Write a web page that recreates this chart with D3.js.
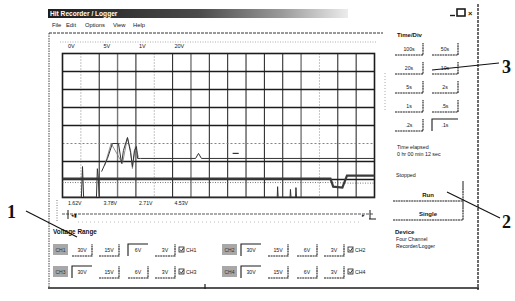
<!DOCTYPE html>
<html><head><meta charset="utf-8">
<script src="https://cdn.jsdelivr.net/npm/d3@7"></script>
<style>
html,body{margin:0;padding:0;background:#fff;}
svg{display:block;}
text{font-family:"Liberation Sans",Arial,sans-serif;fill:#151515;}
</style></head><body>
<div id="chart"></div>
<script>
// ---------- data ----------
const titleText = "Hit Recorder / Logger";
const menuItems = ["File","Edit","Options","View","Help"];
const timeDivLabels = ["100s","50s","20s","10s","5s","2s","1s",".5s",".2s",".1s"];
const selectedTimeDiv = ".1s";
const channelNames = ["CH1","CH3","CH2","CH4"];
const rangeLabels = ["30V","15V","6V","3V"];
const selectedRange = ["6V","30V","30V","30V"];
const topScaleLabels = ["0V","5V","1V","20V"];
const bottomReadings = ["1.62V","3.78V","2.71V","4.53V"];
const xDivs = d3.range(0,18);           // 17 time divisions
const yDivs = d3.range(0,9);            // 8 voltage divisions
const dottedCols = [1,5,14];
const grayCols = [3,7,13];
const dottedRows = [3];
// traces in division units [x, y]
const traceA = [[0,1.05],[14.6,1.05],[14.75,0.6],[15.25,0.55],[15.5,1.22],[17,1.22]];
const traceB = [[2.13,1.44],[2.45,2.17],[2.72,3.0],[3.05,3.0],[3.22,1.89],[3.32,2.61],[3.54,3.33],
  [3.71,2.5],[3.81,1.72],[3.92,2.61],[4.03,2.83],[4.09,2.17],[4.25,2.17],[7.25,2.17],[7.41,2.45],[7.57,2.17],[17,2.17]];
const traceB2 = [[2.3,1.78],[2.65,3.0],[3.27,1.89],[3.54,3.33],[3.71,2.61],[3.81,1.61],[3.98,2.89],[4.14,2.22]];
const traceC = [[0,0.02],[1.03,0.02],[1.09,1.72],[1.15,0.02],[1.85,0.02],[1.9,1.6],[1.95,1.1],[2.0,0.02],
  [11.7,0.02],[11.72,0.6],[11.75,0.02],[12.4,0.02],[12.42,0.45],[12.45,0.02],[12.7,0.02],[12.72,0.55],[12.75,0.02],[17,0.02]];
const traceD = [[0,0.83],[14.6,0.83],[15.6,0.8],[17,0.8]];
const markSeg = [[9.27,2.45],[9.6,2.45]];

// ---------- drawing ----------
const W = 515, H = 301;
const svg = d3.select("#chart").append("svg").attr("width",W).attr("height",H);
const ink = "#1c1c1c";

// title bar
const defs = svg.append("defs");
const grad = defs.append("linearGradient").attr("id","tb");
grad.append("stop").attr("offset","0%").attr("stop-color","#1e1e1e");
grad.append("stop").attr("offset","50%").attr("stop-color","#4a4a4a");
grad.append("stop").attr("offset","78%").attr("stop-color","#9a9a9a");
grad.append("stop").attr("offset","100%").attr("stop-color","#ececec");
svg.append("rect").attr("x",48).attr("y",9).attr("width",300).attr("height",9).attr("fill","url(#tb)");
svg.append("text").attr("x",50).attr("y",16).attr("font-size",6.6).attr("font-weight","bold")
  .style("fill","#fff").text(titleText);
// window controls
svg.append("line").attr("x1",450).attr("x2",455).attr("y1",15.5).attr("y2",15.5).attr("stroke",ink).attr("stroke-width",1.4);
svg.append("rect").attr("x",457).attr("y",9).attr("width",8).attr("height",7).attr("fill","none").attr("stroke",ink).attr("stroke-width",1.6);
svg.append("text").attr("x",468).attr("y",16).attr("font-size",7.5).attr("font-weight","bold").text("×");

// menu
const menuX = [52,66,85,113,133];
svg.selectAll("text.menu").data(menuItems).join("text").attr("class","menu")
  .attr("x",(d,i)=>menuX[i]).attr("y",27).attr("font-size",5.8).text(d=>d);

// window borders
svg.append("line").attr("x1",478).attr("x2",478).attr("y1",4).attr("y2",290).attr("stroke",ink).attr("stroke-width",1.3).attr("stroke-dasharray","3,1");
svg.append("line").attr("x1",49).attr("x2",49).attr("y1",33).attr("y2",288).attr("stroke","#444").attr("stroke-width",1).attr("stroke-dasharray","1.5,1");
svg.append("line").attr("x1",48).attr("x2",479).attr("y1",288).attr("y2",288).attr("stroke",ink).attr("stroke-width",1.3);
svg.append("line").attr("x1",205).attr("x2",205).attr("y1",284).attr("y2",289).attr("stroke",ink).attr("stroke-width",1.2);
svg.append("line").attr("x1",49).attr("x2",383).attr("y1",33).attr("y2",33).attr("stroke","#333").attr("stroke-width",1).attr("stroke-dasharray","3,1");
svg.append("line").attr("x1",60).attr("x2",377).attr("y1",42).attr("y2",42).attr("stroke","#999").attr("stroke-width",0.8).attr("stroke-dasharray","1,1.5");

// plot scales
const x = d3.scaleLinear().domain([0,17]).range([62.5,374.5]);
const y = d3.scaleLinear().domain([0,8]).range([197.5,53.5]);
const g = svg.append("g");
g.selectAll("line.vg").data(xDivs.slice(1,17)).join("line").attr("class","vg")
  .attr("x1",d=>x(d)).attr("x2",d=>x(d)).attr("y1",y(8)).attr("y2",y(0))
  .attr("stroke",d=>grayCols.includes(d)?"#777":(dottedCols.includes(d)?"#888":ink))
  .attr("stroke-width",d=>grayCols.includes(d)?1.4:1)
  .attr("stroke-dasharray",d=>dottedCols.includes(d)?"1,2":null);
g.selectAll("line.hg").data(yDivs.slice(1,8)).join("line").attr("class","hg")
  .attr("x1",x(0)).attr("x2",x(17)).attr("y1",d=>y(d)).attr("y2",d=>y(d))
  .attr("stroke",d=>dottedRows.includes(d)?"#777":ink)
  .attr("stroke-width",d=>dottedRows.includes(d)?0.9:1.4)
  .attr("stroke-dasharray",d=>dottedRows.includes(d)?"2,2":null);
g.append("rect").attr("x",x(0)).attr("y",y(8)).attr("width",x(17)-x(0)).attr("height",y(0)-y(8))
  .attr("fill","none").attr("stroke",ink).attr("stroke-width",1.6);

const line = d3.line().x(d=>x(d[0])).y(d=>y(d[1]));
g.append("path").datum(traceD).attr("d",line).attr("fill","none").attr("stroke","#666").attr("stroke-width",0.9).attr("stroke-dasharray","1,1.5");
g.append("path").datum(traceA).attr("d",line).attr("fill","none").attr("stroke","#3a3a3a").attr("stroke-width",2.2);
g.append("path").datum(traceC).attr("d",line).attr("fill","none").attr("stroke","#333").attr("stroke-width",1);
g.append("path").datum(traceB2).attr("d",line).attr("fill","none").attr("stroke","#777").attr("stroke-width",0.8);
g.append("path").datum(traceB).attr("d",line).attr("fill","none").attr("stroke","#333").attr("stroke-width",1);
g.append("path").datum(markSeg).attr("d",line).attr("fill","none").attr("stroke","#333").attr("stroke-width",1.2);

// scale labels
svg.selectAll("text.top").data(topScaleLabels).join("text").attr("class","top")
  .attr("x",(d,i)=>68+i*35.5).attr("y",48).attr("font-size",5.5).text(d=>d);
svg.selectAll("text.bot").data(bottomReadings).join("text").attr("class","bot")
  .attr("x",(d,i)=>68+i*35.5).attr("y",205).attr("font-size",5.2).text(d=>d);

// scroll bar
svg.append("line").attr("x1",62).attr("x2",374).attr("y1",214).attr("y2",214).attr("stroke","#444").attr("stroke-width",0.9).attr("stroke-dasharray","3,1");
svg.append("line").attr("x1",78).attr("x2",360).attr("y1",222).attr("y2",222).attr("stroke","#aaa").attr("stroke-width",0.8).attr("stroke-dasharray","1,3");
svg.append("line").attr("x1",68).attr("x2",68).attr("y1",210).attr("y2",219).attr("stroke",ink);
svg.append("text").attr("x",71).attr("y",217).attr("font-size",5).text("◂▮");
svg.append("line").attr("x1",370).attr("x2",370).attr("y1",210).attr("y2",219).attr("stroke",ink);
svg.append("line").attr("x1",369).attr("x2",376).attr("y1",219).attr("y2",219).attr("stroke",ink);
svg.append("text").attr("x",362).attr("y",217).attr("font-size",5).text("▸");
svg.append("line").attr("x1",57).attr("x2",57).attr("y1",200).attr("y2",222).attr("stroke","#777").attr("stroke-dasharray","1,1.5");

// voltage range
svg.append("text").attr("x",53).attr("y",234).attr("font-size",6.4).attr("font-weight","bold").text("Voltage Range");
const groupX = [53,53,222,222], rowY = [250,272,250,272];
const btnOff = [19,46,75,102], btnW = 20;
function button(gsel, x0, x1, cy, label, pressed, fs, bold){
  const h = 6;
  if(pressed){
    gsel.append("path").attr("d",`M${x0},${cy+h}V${cy-h}H${x1}`).attr("fill","none").attr("stroke",ink).attr("stroke-width",1.1);
  } else {
    gsel.append("path").attr("d",`M${x0},${cy+h}H${x1}V${cy-h}`).attr("fill","none").attr("stroke",ink).attr("stroke-width",1.1).attr("stroke-dasharray","2,0.6");
  }
  gsel.append("text").attr("x",(x0+x1)/2).attr("y",cy+2).attr("text-anchor","middle")
    .attr("font-size",fs).attr("font-weight",bold?"bold":null).text(label);
}
channelNames.forEach((ch,ci)=>{
  const gx = groupX[ci], cy = rowY[ci];
  const cg = svg.append("g");
  cg.append("rect").attr("x",gx).attr("y",cy-6).attr("width",15).attr("height",11).attr("fill","#a8a8a8");
  cg.append("text").attr("x",gx+7.5).attr("y",cy+2).attr("text-anchor","middle").attr("font-size",5).style("fill","#333").text(ch);
  rangeLabels.forEach((r,ri)=>{
    button(cg, gx+btnOff[ri], gx+btnOff[ri]+btnW, cy, r, r===selectedRange[ci], 5.2, false);
  });
  cg.append("rect").attr("x",gx+126).attr("y",cy-3).attr("width",5).attr("height",5).attr("fill","none").attr("stroke",ink).attr("stroke-width",0.8);
  cg.append("path").attr("d",`M${gx+127},${cy-0.5}L${gx+128.5},${cy+1.2}L${gx+130.5},${cy-2}`).attr("fill","none").attr("stroke",ink).attr("stroke-width",0.9);
  cg.append("text").attr("x",gx+133).attr("y",cy+2).attr("font-size",5.2).text(ch);
});

// right panel
svg.append("text").attr("x",397).attr("y",37).attr("font-size",6).attr("font-weight","bold").text("Time/Div");
const colX = [[395,423],[432,458]];
const tg = svg.append("g");
timeDivLabels.forEach((t,i)=>{
  const c = i%2, r = Math.floor(i/2);
  button(tg, colX[c][0], colX[c][1], 49+19*r, t, t===selectedTimeDiv, 5.2, false);
});
svg.append("line").attr("x1",385).attr("x2",385).attr("y1",73).attr("y2",110).attr("stroke","#aaa").attr("stroke-dasharray","1,2");
svg.append("text").attr("x",397).attr("y",149).attr("font-size",5.3).text("Time elapsed");
svg.append("text").attr("x",397).attr("y",156).attr("font-size",5.3).text("0 hr 00 min 12 sec");
svg.append("text").attr("x",396).attr("y",177).attr("font-size",5.3).text("Stopped");
button(svg.append("g"), 393, 463, 195, "Run", false, 6, true);
svg.append("line").attr("x1",463).attr("x2",463).attr("y1",181).attr("y2",189).attr("stroke",ink);
button(svg.append("g"), 393, 463, 214, "Single", false, 6, true);
svg.append("line").attr("x1",463).attr("x2",463).attr("y1",201).attr("y2",208).attr("stroke",ink);
svg.append("text").attr("x",395).attr("y",234).attr("font-size",6).attr("font-weight","bold").text("Device");
svg.append("text").attr("x",396).attr("y",240.5).attr("font-size",5.2).text("Four Channel");
svg.append("text").attr("x",396).attr("y",247.5).attr("font-size",5.2).text("Recorder/Logger");

// annotations
const ann = [{n:"1",tx:7,ty:218,l:[26,211,77,237]},{n:"2",tx:502,ty:228,l:[447,192,500,218]},{n:"3",tx:502,ty:73,l:[432,70,499,63]}];
ann.forEach(a=>{
  svg.append("line").attr("x1",a.l[0]).attr("y1",a.l[1]).attr("x2",a.l[2]).attr("y2",a.l[3]).attr("stroke","#111").attr("stroke-width",1.1);
  svg.append("text").attr("x",a.tx).attr("y",a.ty).attr("font-size",18).attr("font-weight","bold")
    .style("font-family","'Liberation Serif','Times New Roman',serif").style("fill","#111").text(a.n);
});
</script></body></html>
